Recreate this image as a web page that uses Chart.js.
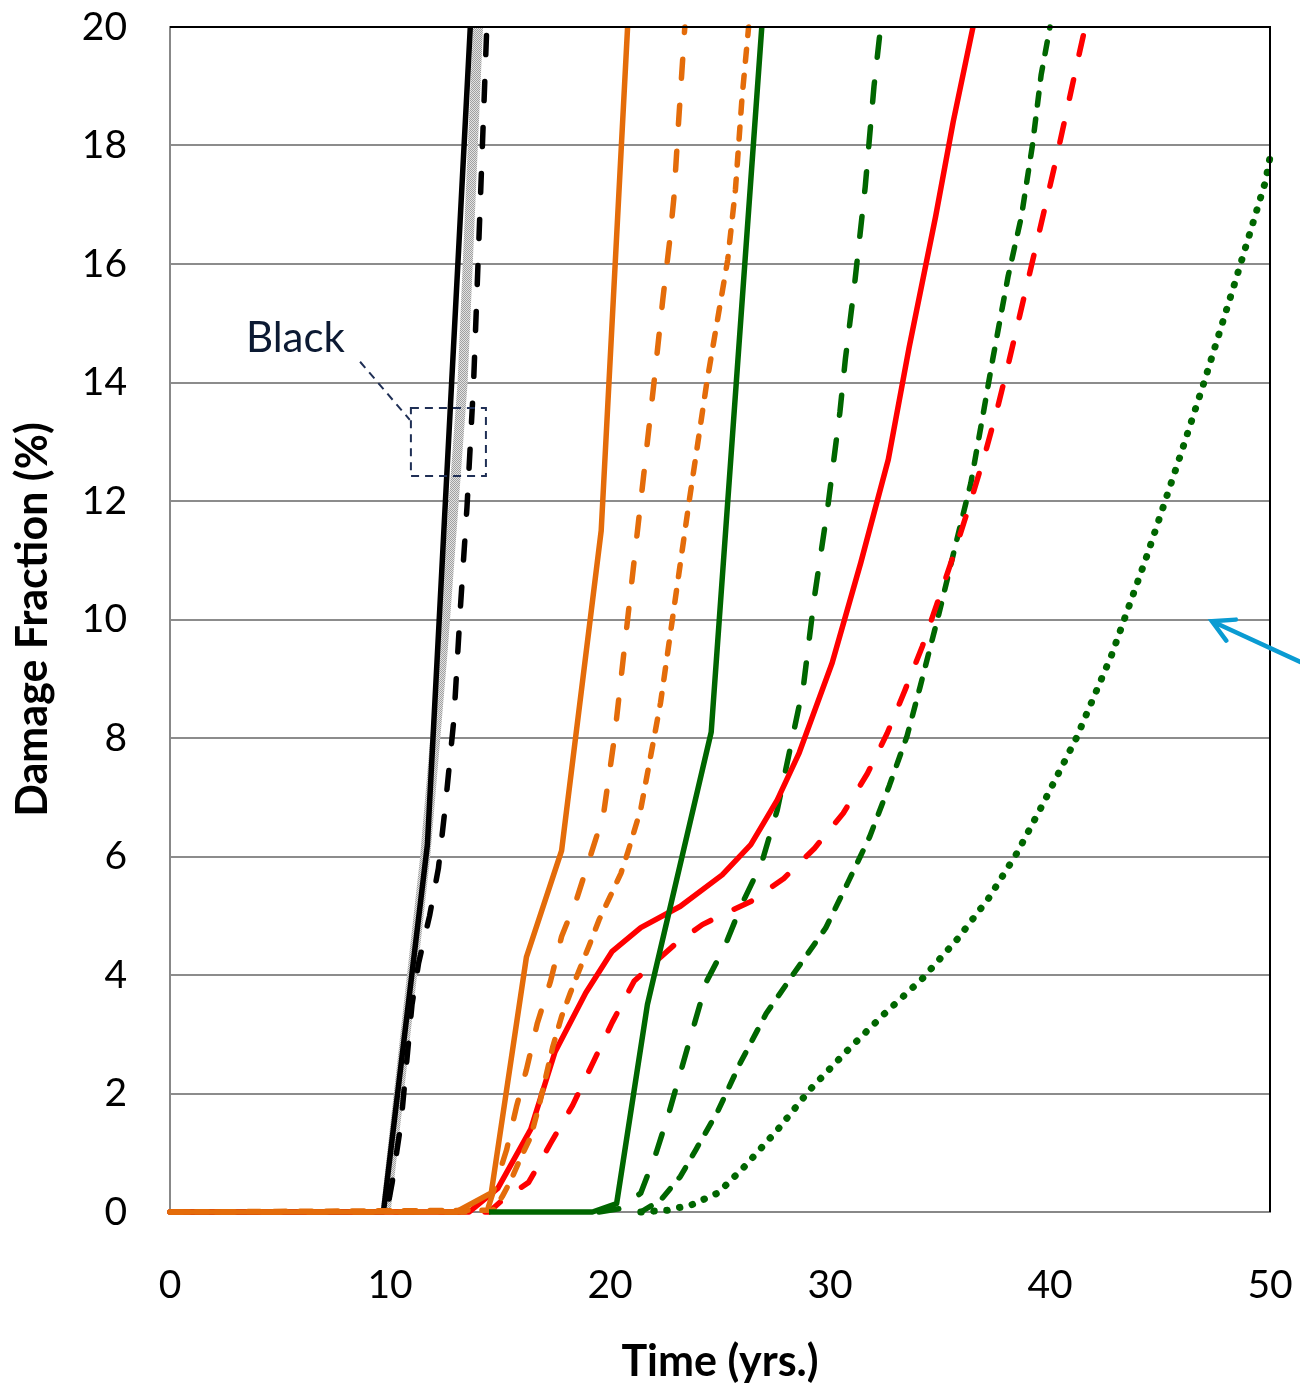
<!DOCTYPE html>
<html>
<head>
<meta charset="utf-8">
<title>Damage Fraction vs Time</title>
<script src="https://cdn.jsdelivr.net/npm/chart.js@4.4.1/dist/chart.umd.min.js"></script>
<style>
    body { margin: 0; background: #fff; }
    #wrap { width: 1300px; height: 1388px; }
</style>
</head>
<body>
<div id="wrap"><canvas id="myChart" width="1300" height="1388"></canvas></div>
<script>
// Axis ticks
const xTicks = [0, 10, 20, 30, 40, 50];
const yTicks = [0, 2, 4, 6, 8, 10, 12, 14, 16, 18, 20];

// Black - solid
const blackSolidX = [0, 9.7, 11.7, 13.65];
const blackSolidY = [0, 0, 6.2, 20];
// Black - gray shaded band
const blackBandX = [9.8, 11.6, 12.4, 13.3, 14.0];
const blackBandY = [0, 6.0, 9.5, 14, 20];
// Black - dashed
const blackDashX = [0, 9.85, 10.1, 10.5, 10.8, 11.0, 11.3, 11.8, 12.2, 12.5, 12.9, 13.2, 13.5, 13.8, 14.0, 14.2, 14.4];
const blackDashY = [0, 0, 0.5, 1.5, 2.7, 3.5, 4.2, 5.0, 5.8, 6.8, 8.3, 10.2, 11.9, 14, 16, 18, 20];

// Orange
const orangeSolidX = [0, 13.0, 14.6, 16.2, 17.8, 19.6, 20.8];
const orangeSolidY = [0, 0, 0.32, 4.3, 6.1, 11.5, 20];
const orangeLongX = [0, 14.4, 15.3, 15.75, 16.2, 16.7, 17.3, 17.8, 18.5, 19.1, 19.7, 20.2, 20.8, 21.4, 22.0, 22.4, 22.7, 22.9, 23.1, 23.4];
const orangeLongY = [0, 0, 1.05, 1.78, 2.4, 3.19, 3.9, 4.65, 5.3, 6.0, 6.7, 8, 10, 12, 14, 15.4, 16.35, 17.1, 18.3, 20];
const orangeShortX = [0, 14.7, 15.1, 15.5, 15.9, 16.4, 16.8, 17.4, 17.8, 18.2, 18.6, 19.1, 19.5, 20.0, 20.5, 20.8, 21.4, 22.3, 23.6, 24.4, 25.35, 25.7, 26.0, 26.3];
const orangeShortY = [0, 0.03, 0.26, 0.54, 0.88, 1.27, 1.83, 2.79, 3.3, 3.7, 4.08, 4.54, 4.93, 5.32, 5.72, 6.06, 6.8, 8.6, 12, 14, 16.07, 17.25, 18.8, 20];

// Red
const redSolidX = [0, 13.6, 14.9, 16.4, 17.5, 18.9, 20.1, 21.4, 23.2, 25.1, 26.4, 27.6, 28.6, 30.1, 31.4, 32.65, 33.6, 34.8, 35.6, 36.5];
const redSolidY = [0, 0, 0.4, 1.4, 2.7, 3.7, 4.4, 4.8, 5.16, 5.69, 6.2, 6.95, 7.75, 9.27, 10.96, 12.7, 14.6, 16.8, 18.4, 20];
const redDashX = [0, 14.5, 15.1, 16.3, 16.7, 17.3, 18.3, 19.2, 20.1, 21.1, 21.7, 22.9, 24.2, 25.0, 26.4, 27.9, 29.3, 30.6, 31.7, 32.6, 33.4, 34.2, 34.85, 35.6, 36.4, 37.05, 37.6, 38.1, 39.3, 40.3, 41.3, 41.6];
const redDashY = [0, 0, 0.2, 0.5, 0.76, 1.16, 1.8, 2.5, 3.2, 3.9, 4.1, 4.5, 4.85, 5.0, 5.24, 5.63, 6.14, 6.73, 7.4, 8.08, 8.8, 9.55, 10.25, 11.07, 12.0, 12.8, 13.55, 14.3, 16.2, 17.8, 19.5, 20];

// Green
const greenSolidX = [14.5, 19.2, 20.3, 21.7, 24.6, 26.9];
const greenSolidY = [0, 0, 0.14, 3.5, 8.1, 20];
const greenLongX = [19.5, 20.5, 21.4, 22.1, 22.7, 23.7, 24.4, 25.2, 26.0, 26.9, 27.6, 28.8, 29.3, 29.9, 30.45, 30.7, 31.1, 31.6, 32.0, 32.3];
const greenLongY = [0, 0.06, 0.32, 1.0, 1.7, 3.0, 3.9, 4.47, 5.2, 5.9, 6.78, 8.9, 10.4, 11.9, 13.5, 14.4, 15.6, 17.3, 19.0, 20];
const greenShortX = [21.4, 22.3, 23.2, 23.9, 24.9, 25.9, 27.1, 28.4, 29.8, 30.8, 31.8, 32.7, 33.5, 34.1, 35.0, 35.8, 36.4, 37.0, 37.4, 38.1, 38.7, 39.2, 39.6, 40.0];
const greenShortY = [0, 0.2, 0.6, 1.05, 1.7, 2.5, 3.35, 4.05, 4.79, 5.55, 6.33, 7.2, 8.03, 8.87, 10.17, 11.4, 12.3, 13.55, 14.4, 15.8, 16.8, 18.0, 19.2, 20];
const greenDotX = [21.4, 22.6, 23.7, 24.9, 26.0, 27.6, 29.1, 30.8, 32.4, 34.2, 35.8, 37.2, 38.5, 39.6, 41.2, 42.8, 44.4, 45.9, 47.0, 48.4, 49.8, 50];
const greenDotY = [0, 0.03, 0.12, 0.32, 0.72, 1.38, 2.07, 2.73, 3.32, 3.94, 4.61, 5.29, 6.06, 6.83, 8.0, 9.4, 11.07, 12.74, 14.0, 15.68, 17.4, 17.8];

const ORANGE = '#E46C0A';
const RED = '#FF0000';
const GREEN = '#006600';
const FONT = 'Lato, "Open Sans", sans-serif';

function pts(xs, ys) {
    return xs.map((x, i) => ({ x: x, y: ys[i] }));
}

// stippled gray for the shaded band
function grayPattern() {
    const c = document.createElement('canvas');
    c.width = 2; c.height = 2;
    const g = c.getContext('2d');
    g.fillStyle = '#e2e2e2'; g.fillRect(0, 0, 2, 2);
    g.fillStyle = '#a0a0a0'; g.fillRect(0, 0, 1, 1); g.fillRect(1, 1, 1, 1);
    return g.createPattern(c, 'repeat');
}

function line(label, xs, ys, color, width, dash, order) {
    return {
        label: label,
        data: pts(xs, ys),
        borderColor: color,
        borderWidth: width,
        borderDash: dash,
        borderCapStyle: dash.length ? 'round' : 'butt',
        borderJoinStyle: 'round',
        pointRadius: 0,
        tension: 0,
        fill: false,
        clip: false,
        order: order
    };
}

// Frame (black top/right) and annotations
const extras = {
    id: 'extras',
    afterDatasetsDraw(chart) {
        const ctx = chart.ctx;
        const a = chart.chartArea;
        const xs = chart.scales.x, ys = chart.scales.y;
        const px = v => xs.getPixelForValue(v);
        const py = v => ys.getPixelForValue(v);
        ctx.save();
        // top and right border
        ctx.strokeStyle = '#000';
        ctx.lineWidth = 2;
        ctx.beginPath();
        ctx.moveTo(a.left, a.top);
        ctx.lineTo(a.right, a.top);
        ctx.lineTo(a.right, a.bottom);
        ctx.stroke();

        // "Black" callout
        ctx.fillStyle = '#0c1a33';
        ctx.font = '42px ' + FONT;
        ctx.textAlign = 'left';
        ctx.textBaseline = 'middle';
        ctx.fillText('Black', px(3.45), py(14.75));
        ctx.strokeStyle = '#1f2f55';
        ctx.lineWidth = 2;
        ctx.setLineDash([8, 6]);
        ctx.beginPath();
        ctx.moveTo(px(8.64), py(14.35));
        ctx.lineTo(px(10.9), py(13.37));
        ctx.stroke();
        ctx.strokeRect(px(10.95), py(13.57), px(14.36) - px(10.95), py(12.42) - py(13.57));
        ctx.setLineDash([]);

        // blue arrow pointing at the dotted curve
        const tx = px(47.36), ty = py(9.97);
        const sx = px(51.4), sy = py(9.28);
        ctx.strokeStyle = '#0a9bd2';
        ctx.lineWidth = 4.5;
        ctx.lineCap = 'round';
        ctx.beginPath();
        ctx.moveTo(sx, sy);
        ctx.lineTo(tx, ty);
        const ang = Math.atan2(sy - ty, sx - tx);
        const hl = 24;
        ctx.moveTo(tx + hl * Math.cos(ang + 0.5), ty + hl * Math.sin(ang + 0.5));
        ctx.lineTo(tx, ty);
        ctx.lineTo(tx + hl * Math.cos(ang - 0.5), ty + hl * Math.sin(ang - 0.5));
        ctx.stroke();
        ctx.restore();
    }
};

var ctx = document.getElementById('myChart').getContext('2d');
var myChart = new Chart(ctx, {
    type: 'line',
    data: {
        datasets: [
            line('Orange solid', orangeSolidX, orangeSolidY, ORANGE, 5.5, [], 1),
            line('Green solid', greenSolidX, greenSolidY, GREEN, 5.5, [], 2),
            line('Orange long dash', orangeLongX, orangeLongY, ORANGE, 5.5, [19, 27], 3),
            line('Orange short dash', orangeShortX, orangeShortY, ORANGE, 5.5, [12, 14], 4),
            line('Red solid', redSolidX, redSolidY, RED, 5.5, [], 5),
            line('Red dash', redDashX, redDashY, RED, 5.5, [19, 26], 6),
            line('Green long dash', greenLongX, greenLongY, GREEN, 5.5, [20, 25], 7),
            line('Green short dash', greenShortX, greenShortY, GREEN, 5.5, [12, 14], 8),
            line('Green dotted', greenDotX, greenDotY, GREEN, 7, [0.5, 12.5], 9),
            line('Black dash', blackDashX, blackDashY, '#000', 5.5, [19, 27], 10),
            line('Black solid', blackSolidX, blackSolidY, '#000', 5.5, [], 11),
            line('Black band', blackBandX, blackBandY, grayPattern(), 10, [], 12)
        ]
    },
    options: {
        responsive: false,
        animation: false,
        devicePixelRatio: 1,
        layout: { padding: { top: 27, right: 30, left: 0, bottom: 0 } },
        plugins: {
            legend: { display: false },
            tooltip: { enabled: false }
        },
        scales: {
            x: {
                type: 'linear',
                min: 0,
                max: 50,
                afterBuildTicks: s => { s.ticks = xTicks.map(v => ({ value: v })); },
                afterFit: s => { s.height = 176; s.paddingLeft = 0; s.paddingRight = 0; },
                grid: { display: false, drawTicks: false },
                border: { display: true, color: '#888', width: 2 },
                ticks: { color: '#000', padding: 50, font: { family: FONT, size: 39 } },
                title: {
                    display: true,
                    text: 'Time (yrs.)',
                    color: '#000',
                    font: { family: FONT, size: 43, weight: 'bold' },
                    padding: { top: 0, bottom: 0 }
                }
            },
            y: {
                type: 'linear',
                min: 0,
                max: 20,
                afterBuildTicks: s => { s.ticks = yTicks.map(v => ({ value: v })); },
                afterFit: s => { s.width = 170; s.paddingTop = 0; s.paddingBottom = 0; },
                grid: { color: '#8c8c8c', lineWidth: 2, drawTicks: false },
                border: { display: true, color: '#888', width: 2 },
                ticks: { color: '#000', padding: 43, font: { family: FONT, size: 39 } },
                title: {
                    display: true,
                    text: 'Damage Fraction (%)',
                    color: '#000',
                    font: { family: FONT, size: 43, weight: 'bold' },
                    padding: { top: 7, bottom: 0 }
                }
            }
        }
    },
    plugins: [extras]
});
</script>
</body>
</html>
